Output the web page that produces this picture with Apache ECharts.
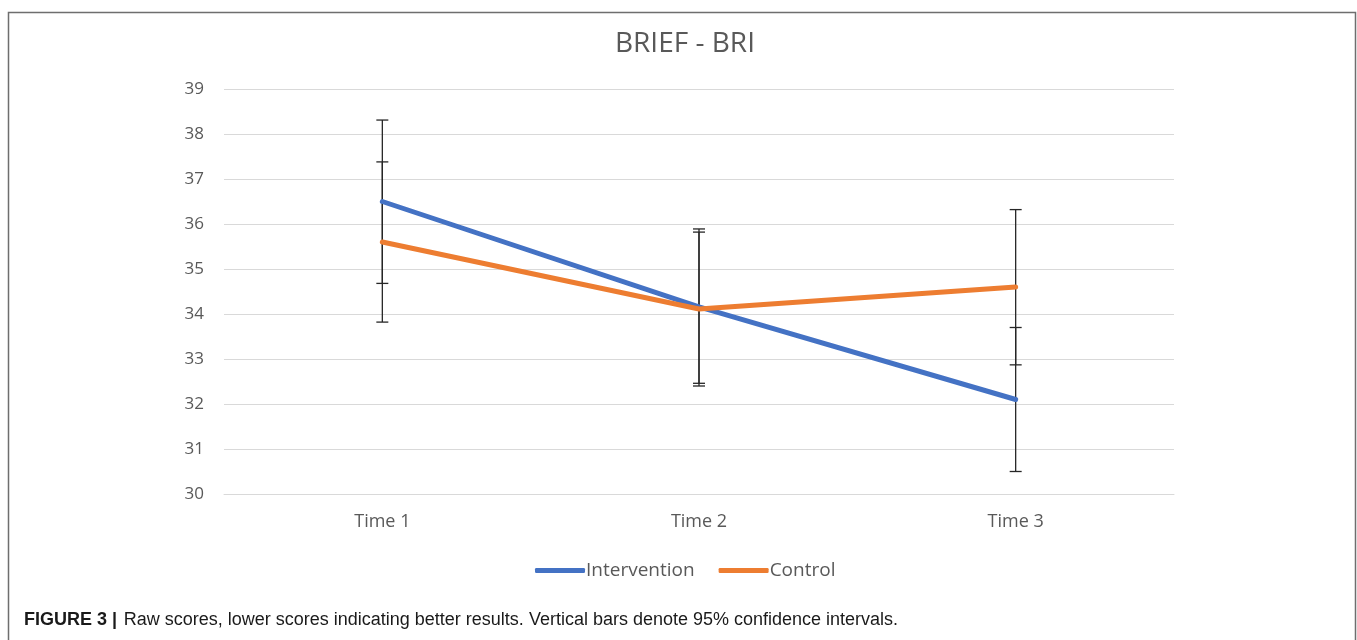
<!DOCTYPE html>
<html>
<head>
<meta charset="utf-8">
<script src="https://cdn.jsdelivr.net/npm/echarts@6/dist/echarts.min.js"></script>
<style>
  html, body { margin: 0; padding: 0; background: #fff; }
  #chart { width: 1357px; height: 640px; }
</style>
</head>
<body>
<div id="chart"></div>
<script>
const categories = ['Time 1', 'Time 2', 'Time 3'];
const intervention = [36.5, 34.16, 32.1];
const control = [35.6, 34.11, 34.6];
// 95% confidence intervals
const interventionLow = [34.68, 32.46, 30.5];
const interventionHigh = [38.31, 35.89, 33.7];
const controlLow = [33.82, 32.4, 32.87];
const controlHigh = [37.38, 35.82, 36.32];

const errData = [];
categories.forEach((c, i) => {
  errData.push([i, interventionLow[i], interventionHigh[i]]);
  errData.push([i, controlLow[i], controlHigh[i]]);
});

const myChart = echarts.init(document.getElementById('chart'));
const font = '"Open Sans", "Noto Sans", sans-serif';

const option = {
  animation: false,
  backgroundColor: '#fff',
  title: {
    text: 'BRIEF - BRI',
    left: 610,
    top: 25,
    textStyle: { fontFamily: font, fontSize: 28, fontWeight: 'normal', color: '#595959' }
  },
  grid: { left: 224, right: 183, top: 89, bottom: 146 },
  legend: {
    bottom: 60,
    left: 535,
    padding: 0,
    itemWidth: 50,
    itemHeight: 5,
    itemGap: 24,
    icon: 'roundRect',
    textStyle: { fontFamily: font, fontSize: 19, color: '#595959', padding: [0, 0, 0, -4] },
    data: ['Intervention', 'Control']
  },
  xAxis: {
    type: 'category',
    data: categories,
    axisLine: { lineStyle: { color: '#d9d9d9' } },
    axisTick: { show: false },
    axisLabel: { fontFamily: font, fontSize: 18, color: '#595959', margin: 19 }
  },
  yAxis: {
    type: 'value',
    min: 30,
    max: 39,
    interval: 1,
    axisLine: { show: false },
    axisTick: { show: false },
    splitLine: { lineStyle: { color: '#d9d9d9', width: 1 } },
    axisLabel: { fontFamily: font, fontSize: 17, color: '#595959', margin: 20 }
  },
  graphic: [
    {
      type: 'rect',
      shape: { x: 8.5, y: 12.5, width: 1347, height: 640 },
      style: { fill: 'none', stroke: '#6e6e6e', lineWidth: 1.5 },
      silent: true
    },
    {
      type: 'text',
      left: 24,
      top: 611,
      style: {
        rich: {
          b: { fontFamily: '"Liberation Sans", sans-serif', fontWeight: 'bold', fontSize: 18, fill: '#1a1a1a' },
          n: { fontFamily: '"Liberation Sans", sans-serif', fontSize: 18, fill: '#1a1a1a' }
        },
        text: '{b|FIGURE 3 |}  {n|Raw scores, lower scores indicating better results. Vertical bars denote 95% confidence intervals.}'
      }
    }
  ],
  series: [
    {
      type: 'custom',
      name: 'CI',
      z: 1,
      silent: true,
      data: errData,
      encode: { x: 0, y: [1, 2] },
      renderItem: function (params, api) {
        const x = api.value(0);
        const lo = api.coord([x, api.value(1)]);
        const hi = api.coord([x, api.value(2)]);
        const w = 6;
        const st = { stroke: '#262626', lineWidth: 1.3 };
        return {
          type: 'group',
          children: [
            { type: 'line', shape: { x1: hi[0], y1: hi[1], x2: lo[0], y2: lo[1] }, style: st },
            { type: 'line', shape: { x1: hi[0] - w, y1: hi[1], x2: hi[0] + w, y2: hi[1] }, style: st },
            { type: 'line', shape: { x1: lo[0] - w, y1: lo[1], x2: lo[0] + w, y2: lo[1] }, style: st }
          ]
        };
      }
    },
    {
      name: 'Intervention',
      type: 'line',
      z: 3,
      data: intervention,
      showSymbol: false,
      symbol: 'none',
      color: '#4472C4',
      lineStyle: { width: 5, color: '#4472C4', cap: 'round' }
    },
    {
      name: 'Control',
      type: 'line',
      z: 4,
      data: control,
      showSymbol: false,
      symbol: 'none',
      color: '#ED7D31',
      lineStyle: { width: 5, color: '#ED7D31', cap: 'round' }
    }
  ]
};

myChart.setOption(option);
</script>
</body>
</html>
